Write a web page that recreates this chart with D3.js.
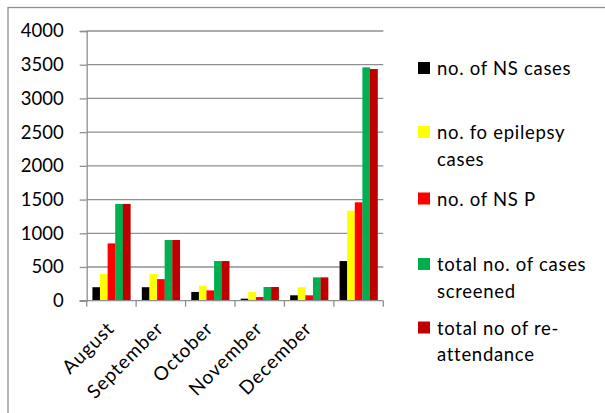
<!DOCTYPE html>
<html>
<head>
<meta charset="utf-8">
<script src="https://cdn.jsdelivr.net/npm/d3@7"></script>
<style>
  html, body { margin: 0; padding: 0; background: #fff; }
  svg { display: block; }
  text { font-family: Lato, "Open Sans", sans-serif; fill: #000; }
</style>
</head>
<body>
<svg id="chart" width="605" height="413"></svg>
<script>
// ---- data ----
const categories = ["August", "September", "October", "November", "December", ""];
const seriesNames = ["no. of NS cases", "no. fo epilepsy cases", "no. of NS P", "total no. of cases screened", "total no of re-attendance"];
const nsCases      = [200, 200, 130, 30, 80, 588];
const epilepsy     = [395, 395, 222, 130, 200, 1335];
const nsP          = [850, 320, 153, 55, 80, 1459];
const screened     = [1435, 900, 588, 203, 346, 3461];
const reattendance = [1435, 900, 588, 203, 346, 3436];
const yTicks = [0, 500, 1000, 1500, 2000, 2500, 3000, 3500, 4000];
const colors = ["#000000", "#FFFF00", "#FF0000", "#00B050", "#C00000"];
const legendLines = [["no. of NS cases"], ["no. fo epilepsy", "cases"], ["no. of NS P"], ["total no. of cases", "screened"], ["total no of re-", "attendance"]];

const seriesValues = [nsCases, epilepsy, nsP, screened, reattendance];

const svg = d3.select("#chart");
const grid = "#8f8f8f";

// outer border (extends past the right/bottom edges)
svg.append("rect").attr("x", 8).attr("y", 7.5).attr("width", 640).attr("height", 440)
  .attr("fill", "none").attr("stroke", grid).attr("stroke-width", 1.3);

const pLeft = 86.7, pRight = 383.3, pTop = 31, pBottom = 300.7;

const x0 = d3.scaleBand().domain(categories.map((c, i) => i)).range([pLeft, pRight]).padding(0);
const x1 = d3.scaleBand().domain(d3.range(seriesNames.length)).range([0, x0.bandwidth()])
  .paddingInner(0).paddingOuter(0.75);
const y = d3.scaleLinear().domain([0, 4000]).range([pBottom, pTop]);

// gridlines
svg.append("g").selectAll("line").data(yTicks.filter(d => d > 0)).join("line")
  .attr("x1", pLeft).attr("x2", pRight)
  .attr("y1", d => y(d)).attr("y2", d => y(d))
  .attr("stroke", grid).attr("stroke-width", 1.3);

// bars
const groups = svg.append("g").selectAll("g").data(categories.map((c, i) => i)).join("g")
  .attr("transform", i => `translate(${x0(i)},0)`);
groups.selectAll("rect").data(i => seriesValues.map((vals, s) => ({ s, v: vals[i] }))).join("rect")
  .attr("x", d => x1(d.s))
  .attr("width", x1.bandwidth() + 0.2)
  .attr("y", d => y(d.v))
  .attr("height", d => pBottom - y(d.v))
  .attr("fill", d => colors[d.s]);

// y axis
const yAxis = svg.append("g").attr("transform", `translate(${pLeft},0)`)
  .call(d3.axisLeft(y).tickValues(yTicks).tickSize(7).tickPadding(16).tickFormat(d3.format("d")));
yAxis.select(".domain").attr("stroke", grid).attr("stroke-width", 1.3);
yAxis.selectAll(".tick line").attr("stroke", grid).attr("stroke-width", 1.3);
yAxis.selectAll(".tick text").style("font-family", "Lato, sans-serif").style("font-size", "18.5px").attr("fill", "#000");

// x axis
const xAxisG = svg.append("g").attr("transform", `translate(0,${pBottom})`);
xAxisG.append("line").attr("x1", pLeft - 7).attr("x2", pRight).attr("y1", 0).attr("y2", 0)
  .attr("stroke", grid).attr("stroke-width", 1.3);
const boundaries = categories.map((c, i) => x0(i)).concat([pRight]);
xAxisG.selectAll("line.tk").data(boundaries).join("line").attr("class", "tk")
  .attr("x1", d => d).attr("x2", d => d).attr("y1", 0).attr("y2", 6)
  .attr("stroke", grid).attr("stroke-width", 1.3);
xAxisG.selectAll("text").data(categories.map((c, i) => i)).join("text")
  .attr("transform", i => `translate(${x0(i) + x0.bandwidth() / 2 + 4},29) rotate(-45)`)
  .attr("text-anchor", "end")
  .style("font-size", "19px")
  .style("letter-spacing", "0.9px")
  .text(i => categories[i]);

// legend
const legendTops = [68, 132, 198.5, 264, 327.5];
const leg = svg.append("g");
legendLines.forEach((lines, i) => {
  const cy = legendTops[i];
  leg.append("rect").attr("x", 418).attr("y", cy - 6).attr("width", 12).attr("height", 12).attr("fill", colors[i]);
  lines.forEach((t, j) => {
    leg.append("text").attr("x", 437).attr("y", cy + 7 + j * 26.5)
      .style("font-size", "18.5px")
      .style("letter-spacing", "0.7px")
      .text(t);
  });
});
</script>
</body>
</html>
